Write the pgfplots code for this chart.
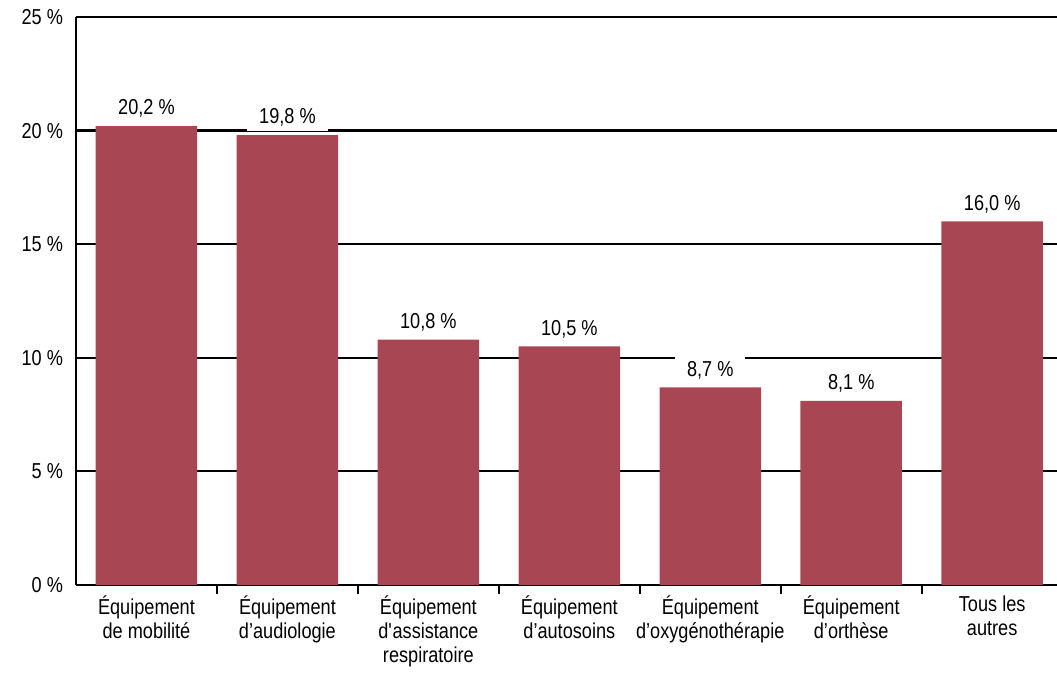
\documentclass[border=0pt]{standalone}
\usepackage{fontspec}
\setmainfont[FakeStretch=0.84]{Liberation Sans}
\usepackage{pgfplots}
\pgfplotsset{compat=1.18}
\definecolor{barred}{RGB}{168,70,83}
\begin{document}
\begin{tikzpicture}
\useasboundingbox (0,0) rectangle (528.5pt,336.5pt);
\begin{axis}[
  at={(38pt,44pt)}, anchor=south west,
  scale only axis, width=490.5pt, height=284pt,
  xmin=-0.5, xmax=6.46, ymin=0, ymax=25,
  axis x line=bottom, axis y line=left,
  axis line style={-, line width=1.1pt, black},
  ytick={0,5,10,15,20,25},
  yticklabels={0 \%,5 \%,10 \%,15 \%,20 \%,25 \%},
  ymajorgrids, grid style={line width=1.1pt, black},
  major tick length=0pt,
  xtick={0,1,2,3,4,5,6},
  minor xtick={0.5,1.5,2.5,3.5,4.5,5.5},
  minor tick length=4.5pt, tick align=inside,
  minor tick style={line width=1pt, black},
  xticklabels={{Équipement\\de mobilité},{Équipement\\d’audiologie},{Équipement\\d\textquotesingle assistance\\respiratoire},{Équipement\\d’autosoins},{Équipement\\d’oxygénothérapie},{Équipement\\d’orthèse},{Tous les\\autres}},
  xticklabel style={align=center, font=\fontsize{10.8}{12}\selectfont, yshift=-2pt},
  yticklabel style={font=\fontsize{10.8}{12}\selectfont, xshift=-3pt},
  ybar, bar width=0.72, bar shift=0pt,
  point meta=explicit symbolic,
  nodes near coords,
  every node near coord/.append style={font=\fontsize{10.8}{12}\selectfont, fill=white, inner xsep=6pt, inner ysep=2pt, anchor=south, yshift=2pt},
  clip=false,
]
\addplot[fill=barred, draw=none] coordinates {
  (0,20.2) [20,2 \%]
  (1,19.8) [19,8 \%]
  (2,10.8) [10,8 \%]
  (3,10.5) [10,5 \%]
  (4,8.7) [8,7 \%]
  (5,8.1) [8,1 \%]
  (6,16.0) [16,0 \%]
};
\end{axis}
\end{tikzpicture}
\end{document}
